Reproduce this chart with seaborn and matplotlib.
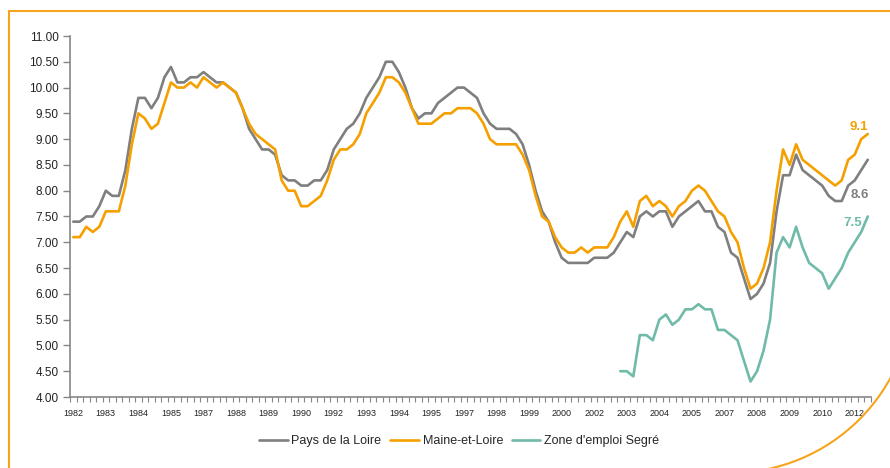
import matplotlib
matplotlib.use("Agg")
import numpy as np
import pandas as pd
import matplotlib.pyplot as plt
import seaborn as sns
from matplotlib.lines import Line2D
from matplotlib.patches import Arc

# Taux de chômage trimestriels, 1982T1 -> 2012T3
pays_loire = [7.4, 7.4, 7.5, 7.5, 7.7, 8.0, 7.9, 7.9, 8.4, 9.2,
              9.8, 9.8, 9.6, 9.8, 10.2, 10.4, 10.1, 10.1, 10.2, 10.2,
              10.3, 10.2, 10.1, 10.1, 10.0, 9.9, 9.6, 9.2, 9.0, 8.8,
              8.8, 8.7, 8.3, 8.2, 8.2, 8.1, 8.1, 8.2, 8.2, 8.4,
              8.8, 9.0, 9.2, 9.3, 9.5, 9.8, 10.0, 10.2, 10.5, 10.5,
              10.3, 10.0, 9.6, 9.4, 9.5, 9.5, 9.7, 9.8, 9.9, 10.0,
              10.0, 9.9, 9.8, 9.5, 9.3, 9.2, 9.2, 9.2, 9.1, 8.9,
              8.5, 8.0, 7.6, 7.4, 7.0, 6.7, 6.6, 6.6, 6.6, 6.6,
              6.7, 6.7, 6.7, 6.8, 7.0, 7.2, 7.1, 7.5, 7.6, 7.5,
              7.6, 7.6, 7.3, 7.5, 7.6, 7.7, 7.8, 7.6, 7.6, 7.3,
              7.2, 6.8, 6.7, 6.3, 5.9, 6.0, 6.2, 6.6, 7.6, 8.3,
              8.3, 8.7, 8.4, 8.3, 8.2, 8.1, 7.9, 7.8, 7.8, 8.1,
              8.2, 8.4, 8.6]

maine_loire = [7.1, 7.1, 7.3, 7.2, 7.3, 7.6, 7.6, 7.6, 8.1, 8.9,
               9.5, 9.4, 9.2, 9.3, 9.7, 10.1, 10.0, 10.0, 10.1, 10.0,
               10.2, 10.1, 10.0, 10.1, 10.0, 9.9, 9.6, 9.3, 9.1, 9.0,
               8.9, 8.8, 8.2, 8.0, 8.0, 7.7, 7.7, 7.8, 7.9, 8.2,
               8.6, 8.8, 8.8, 8.9, 9.1, 9.5, 9.7, 9.9, 10.2, 10.2,
               10.1, 9.9, 9.6, 9.3, 9.3, 9.3, 9.4, 9.5, 9.5, 9.6,
               9.6, 9.6, 9.5, 9.3, 9.0, 8.9, 8.9, 8.9, 8.9, 8.7,
               8.4, 7.9, 7.5, 7.4, 7.1, 6.9, 6.8, 6.8, 6.9, 6.8,
               6.9, 6.9, 6.9, 7.1, 7.4, 7.6, 7.3, 7.8, 7.9, 7.7,
               7.8, 7.7, 7.5, 7.7, 7.8, 8.0, 8.1, 8.0, 7.8, 7.6,
               7.5, 7.2, 7.0, 6.5, 6.1, 6.2, 6.5, 7.0, 8.0, 8.8,
               8.5, 8.9, 8.6, 8.5, 8.4, 8.3, 8.2, 8.1, 8.2, 8.6,
               8.7, 9.0, 9.1]

# zone d'emploi : série disponible à partir de 2003T1
segre = [4.5, 4.5, 4.4, 5.2, 5.2, 5.1, 5.5, 5.6, 5.4, 5.5,
         5.7, 5.7, 5.8, 5.7, 5.7, 5.3, 5.3, 5.2, 5.1, 4.7,
         4.3, 4.5, 4.9, 5.5, 6.8, 7.1, 6.9, 7.3, 6.9, 6.6,
         6.5, 6.4, 6.1, 6.3, 6.5, 6.8, 7.0, 7.2, 7.5]

trimestres = [f"{a}T{q}" for a in range(1982, 2013) for q in range(1, 5)][:len(pays_loire)]
debut_segre = trimestres.index("2003T1")

# une étiquette tous les 5 trimestres, comme sur l'original
annees = ["1982", "1983", "1984", "1985", "1987", "1988", "1989", "1990", "1992",
          "1993", "1994", "1995", "1997", "1998", "1999", "2000", "2002", "2003",
          "2004", "2005", "2007", "2008", "2009", "2010", "2012"]

noms = ["Pays de la Loire", "Maine-et-Loire", "Zone d'emploi Segré"]
couleurs = ["#7f7f7f", "#f5a000", "#6fbaa8"]
orange_cadre = "#f5a41c"

df = pd.concat([
    pd.DataFrame({"pos": np.arange(len(pays_loire)), "taux": pays_loire, "serie": noms[0]}),
    pd.DataFrame({"pos": np.arange(len(maine_loire)), "taux": maine_loire, "serie": noms[1]}),
    pd.DataFrame({"pos": np.arange(len(segre)) + debut_segre, "taux": segre, "serie": noms[2]}),
], ignore_index=True)

sns.set_style("white")
plt.rcParams["font.family"] = ["Liberation Sans", "DejaVu Sans"]

W, H = 890, 468
fig = plt.figure(figsize=(W / 100, H / 100), dpi=100)
ax = fig.add_axes([70 / W, 1 - 397 / H, 801 / W, 361 / H])

sns.lineplot(data=df, x="pos", y="taux", hue="serie", hue_order=noms,
             palette=couleurs, linewidth=1.9, estimator=None, sort=False, ax=ax)

n = len(trimestres)
ax.set_xlim(-0.5, n - 0.5)
ax.set_ylim(4, 11)
ax.set_xlabel("")
ax.set_ylabel("")

yt = np.arange(4, 11.01, 0.5)
ax.set_yticks(yt)
ax.set_yticklabels([f"{v:.2f}" for v in yt], fontsize=8.5, color="#222222")
ax.tick_params(axis="y", direction="out", length=5, width=1, color="#868686", pad=3, left=True)

ax.set_xticks(np.arange(0, n, 5))
ax.set_xticklabels(annees, fontsize=6.5, color="#222222")
ax.set_xticks(np.arange(-0.5, n, 1), minor=True)
ax.tick_params(axis="x", which="major", length=0, pad=9)
ax.tick_params(axis="x", which="minor", direction="out", length=3.5, width=0.8,
               color="#868686", bottom=True)

for s in ["top", "right"]:
    ax.spines[s].set_visible(False)
for s in ["left", "bottom"]:
    ax.spines[s].set_color("#868686")
    ax.spines[s].set_linewidth(1.2)

# valeurs du dernier trimestre
derniers = [(pays_loire, couleurs[0], (-8, -35)),
            (maine_loire, couleurs[1], (-9, 7)),
            (segre, couleurs[2], (-15, -7))]
for serie, c, off in derniers:
    ax.annotate(f"{serie[-1]:.1f}", xy=(n - 1, serie[-1]), xytext=off,
                textcoords="offset pixels", ha="center", va="center",
                fontsize=9.5, fontweight="bold", color=c)

handles, labels = ax.get_legend_handles_labels()
ax.legend(handles, labels, loc="center", bbox_to_anchor=(459 / W, 1 - 441 / H),
          bbox_transform=fig.transFigure, ncol=3, frameon=False, fontsize=9,
          handlelength=2.3, handletextpad=0.3, columnspacing=0.7)

# cadre orange avec coin arrondi en bas à droite
fig.add_artist(Line2D([8.5 / W, 8.5 / W], [0, 1 - 11 / H], transform=fig.transFigure,
                      color=orange_cadre, lw=1.5))
fig.add_artist(Line2D([8.5 / W, 1], [1 - 11 / H, 1 - 11 / H], transform=fig.transFigure,
                      color=orange_cadre, lw=1.5))
R = 183
fig.add_artist(Arc((730 / W, 1 - 290 / H), 2 * R / W, 2 * R / H, theta1=-90, theta2=0,
                   transform=fig.transFigure, color=orange_cadre, lw=1.5))

fig.savefig("out.png", dpi=100)
